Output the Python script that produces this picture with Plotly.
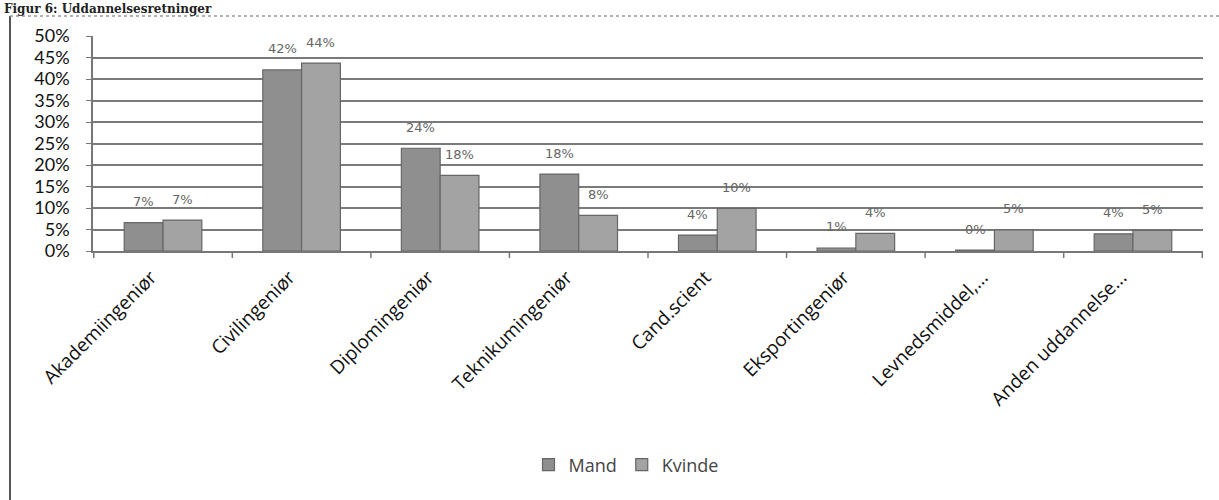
import plotly.graph_objects as go

categories = ["Akademiingeniør", "Civilingeniør", "Diplomingeniør", "Teknikumingeniør",
              "Cand.scient", "Eksportingeniør", "Levnedsmiddel,...", "Anden uddannelse..."]
mand = [0.066, 0.421, 0.239, 0.179, 0.037, 0.007, 0.002, 0.040]
kvinde = [0.072, 0.437, 0.176, 0.083, 0.099, 0.041, 0.049, 0.048]
y_ticks = [0, 0.05, 0.10, 0.15, 0.20, 0.25, 0.30, 0.35, 0.40, 0.45, 0.50]
title_text = "Figur 6: Uddannelsesretninger"

BARGAP = 0.44

fig = go.Figure()
fig.add_trace(go.Bar(
    name="Mand", x=categories, y=mand,
    marker=dict(color="#8f8f8f", line=dict(color="#666666", width=1.2)),
))
fig.add_trace(go.Bar(
    name="Kvinde", x=categories, y=kvinde,
    marker=dict(color="#a3a3a3", line=dict(color="#666666", width=1.2)),
))

L, R, T, B = 93, 16, 36, 249
W, H = 1219, 500
pw = W - L - R
ph = H - T - B
x_frame = (10 - L) / pw
x_right = (W - L) / pw

annotations = []
off = (1 - BARGAP) / 4
for i, (m, k) in enumerate(zip(mand, kvinde)):
    for val, dx in ((m, -off), (k, off)):
        annotations.append(dict(
            x=i + dx, y=val, xref="x", yref="y", text=f"{val:.0%}",
            showarrow=False, yanchor="middle", yshift=21,
            font=dict(family="DejaVu Sans", size=13, color="#666666"),
        ))
annotations.append(dict(
    text="<b>" + title_text + "</b>", xref="paper", yref="paper",
    x=(2 - L) / pw, xanchor="left", y=1 + (T - 0) / ph, yanchor="top",
    showarrow=False, font=dict(family="DejaVu Serif", size=12, color="#222222"),
))

shapes = [
    dict(type="line", xref="paper", yref="paper", x0=x_frame, x1=x_frame,
         y0=1 + (T - 16) / ph, y1=-B / ph,
         line=dict(color="#555555", width=2)),
    dict(type="line", xref="paper", yref="paper", x0=x_frame, x1=x_right,
         y0=1 + (T - 16) / ph, y1=1 + (T - 16) / ph,
         line=dict(color="#999999", width=1.5, dash="dot")),
]
for i in range(len(categories) + 1):
    shapes.append(dict(type="line", xref="x", yref="paper", x0=i - 0.5, x1=i - 0.5,
                       y0=0, y1=-7 / ph, line=dict(color="#777777", width=1.5)))

fig.update_layout(
    width=W, height=H,
    margin=dict(l=L, r=R, t=T, b=B),
    paper_bgcolor="white", plot_bgcolor="white",
    barmode="group", bargap=BARGAP, bargroupgap=0.0,
    font=dict(family="Open Sans", color="#222222"),
    showlegend=True,
    legend=dict(orientation="h", x=(626 - L) / pw, xanchor="center",
                y=-(465 - (T + ph)) / ph, yanchor="middle",
                font=dict(family="Open Sans", size=18, color="#444444"),
                traceorder="normal"),
    xaxis=dict(
        automargin=False,
        tickangle=-45, tickfont=dict(family="Open Sans", size=19, color="#111111"),
        ticklabelstandoff=6, ticklabelshift=-12,
        showline=True, linecolor="#777777", linewidth=1.5,
        ticks="", showgrid=False,
    ),
    yaxis=dict(
        automargin=False,
        range=[0, 0.5], tickvals=y_ticks, tickformat=".0%",
        tickfont=dict(family="Lato", size=18, color="#111111"),
        showgrid=True, gridcolor="#7a7a7a", gridwidth=1.5,
        showline=True, linecolor="#777777", linewidth=1.5,
        ticks="outside", ticklen=5, tickcolor="#777777",
        ticklabelstandoff=13, zeroline=False,
    ),
    shapes=shapes,
    annotations=annotations,
)

fig.write_html("out.html", config={"displayModeBar": False},
               post_script="document.body.style.margin='0';")
